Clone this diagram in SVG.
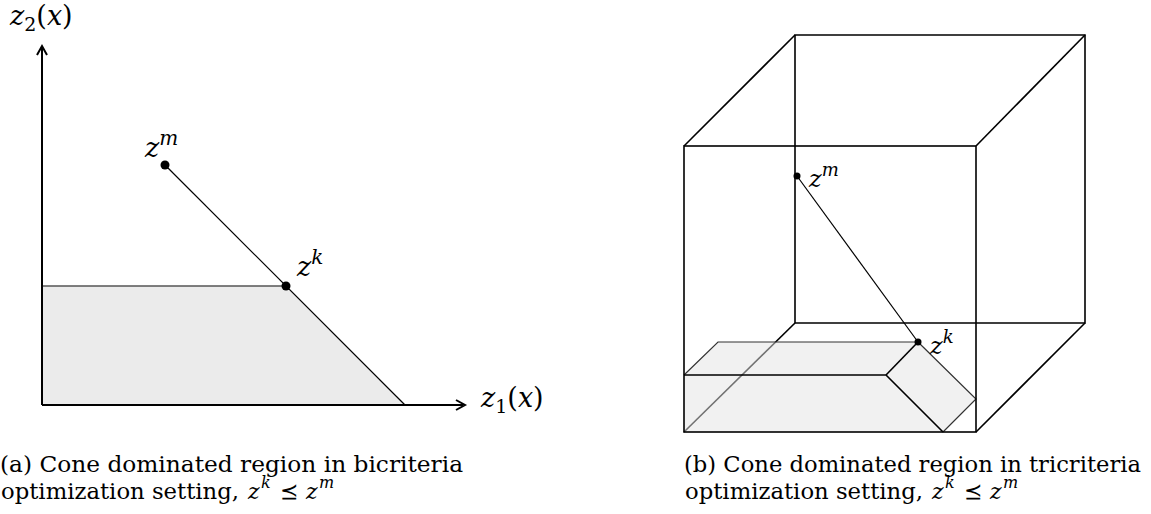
<svg xmlns="http://www.w3.org/2000/svg" width="1151" height="514" viewBox="0 0 1151 514">
<style>
text{font-family:"DejaVu Serif","Liberation Serif",serif;fill:#000}
.it{font-style:italic}
.lab{font-size:27px}
.labs{font-size:24px}
.cap{font-size:22px}
.sup{font-size:16px}
.ax{stroke:#000;stroke-width:2;fill:none}
.thin{stroke:#000;stroke-width:1.2;fill:none}
.edge{stroke:#000;stroke-width:1.6;fill:none}
</style>
<defs>
<g id="rel">
<text class="cap it" x="248" y="499">z</text>
<text class="sup it" x="261" y="488">k</text>
<text class="cap" x="280" y="499">⪯</text>
<text class="cap it" x="306" y="499">z</text>
<text class="sup it" x="319" y="488">m</text>
</g>
</defs>
<rect width="1151" height="514" fill="#fff"/>
<g id="panel-a">
<g id="region-a">
<polygon points="42,286 286,286 405,405 42,405" fill="#ebebeb"/>
<line x1="42" y1="286" x2="286" y2="286" stroke="#555" stroke-width="1.5"/>
</g>
<g id="connectors-a">
<line class="thin" x1="165" y1="165" x2="405" y2="405"/>
<line class="ax" x1="42" y1="405" x2="42" y2="47"/>
<polyline class="ax" points="37,55 42,46 47,55" stroke-width="1.6"/>
<line class="ax" x1="42" y1="405" x2="463" y2="405"/>
<polyline class="ax" points="456,400 465,405 456,410" stroke-width="1.6"/>
</g>
<g id="zm-a"><circle cx="165" cy="165" r="4.5"/>
<text class="lab" x="145" y="157"><tspan class="it">z</tspan><tspan class="it" font-size="20" dy="-12">m</tspan></text></g>
<g id="zk-a"><circle cx="286" cy="286" r="4.5"/>
<text class="lab" x="297" y="276"><tspan class="it">z</tspan><tspan class="it" font-size="20" dy="-12">k</tspan></text></g>
<g id="z2-label"><text class="lab" x="10" y="25"><tspan class="it">z</tspan><tspan font-size="19" dy="6">2</tspan><tspan dy="-6">(</tspan><tspan class="it">x</tspan>)</text></g>
<g id="z1-label"><text class="lab" x="481" y="407"><tspan class="it">z</tspan><tspan font-size="19" dy="6">1</tspan><tspan dy="-6">(</tspan><tspan class="it">x</tspan>)</text></g>
<g id="caption-a">
<text class="cap" x="0" y="472" textLength="463" lengthAdjust="spacingAndGlyphs">(a) Cone dominated region in bicriteria</text>
<text class="cap" x="1" y="499" textLength="238" lengthAdjust="spacingAndGlyphs">optimization setting,</text>
<use href="#rel"/>
</g>
</g>
<g id="panel-b">
<g id="cube-back">
<polyline class="edge" points="795,323 795,35 1085,35 1085,323 795,323"/>
<line class="edge" x1="684" y1="146" x2="795" y2="35"/>
<line class="edge" x1="976" y1="146" x2="1085" y2="35"/>
<line class="edge" x1="976" y1="432" x2="1085" y2="323"/>
<line class="edge" x1="684" y1="432" x2="795" y2="323"/>
</g>
<g id="region-b">
<polygon points="684,375 718,342 918,342 976,399 943,432 684,432" fill="#e4e4e4" fill-opacity="0.5"/>
<polyline points="684,375 718,342 918,342" stroke="#333" stroke-width="1.2" fill="none"/>
<polyline points="918,342 976,399 943,432" stroke="#333" stroke-width="1.2" fill="none"/>
<polyline class="edge" points="684,375 886,375 943,432"/>
<line class="edge" x1="886" y1="375" x2="918" y2="342"/>
</g>
<g id="cube-front">
<rect class="edge" x="684" y="146" width="292" height="286"/>
</g>
<g id="connectors-b"><line class="thin" x1="797" y1="176" x2="918" y2="342"/></g>
<g id="zm-b"><circle cx="797" cy="176" r="3.5"/>
<text class="labs" x="809" y="187"><tspan class="it">z</tspan><tspan class="it" font-size="18" dy="-11">m</tspan></text></g>
<g id="zk-b"><circle cx="918" cy="342" r="3.5"/>
<text class="labs" x="930" y="354"><tspan class="it">z</tspan><tspan class="it" font-size="18" dy="-11">k</tspan></text></g>
<g id="caption-b">
<text class="cap" x="684" y="472" textLength="457" lengthAdjust="spacingAndGlyphs">(b) Cone dominated region in tricriteria</text>
<text class="cap" x="685" y="499" textLength="238" lengthAdjust="spacingAndGlyphs">optimization setting,</text>
<use href="#rel" x="684"/>
</g>
</g>
</svg>
